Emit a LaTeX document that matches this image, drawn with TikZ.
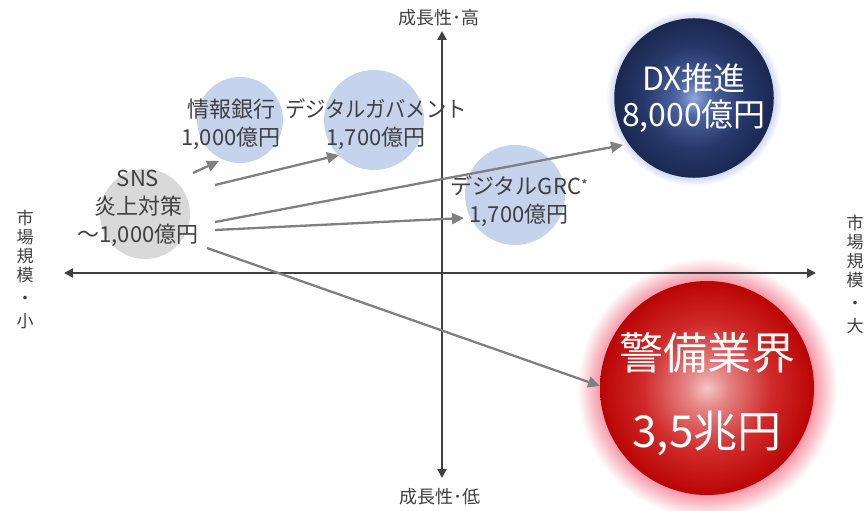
\documentclass[tikz,border=0pt]{standalone}
\usepackage{fontspec}
\setmainfont{Noto Sans CJK JP}
\usetikzlibrary{arrows.meta}
\definecolor{txt}{HTML}{404040}
\definecolor{axiscol}{HTML}{404040}
\definecolor{arrcol}{HTML}{808080}
\definecolor{bub}{HTML}{C5D3EC}
\definecolor{gry}{HTML}{D9D9D9}
\definecolor{redA}{HTML}{F4C6C6}
\definecolor{redB}{HTML}{E48484}
\definecolor{redC}{HTML}{D02A2A}
\definecolor{redD}{HTML}{BA0404}
\definecolor{glowR}{HTML}{F58A9C}
\definecolor{glowR2}{HTML}{FAC4CE}
\definecolor{bluA}{HTML}{8EA8DC}
\definecolor{bluB}{HTML}{4A629E}
\definecolor{bluC}{HTML}{26386A}
\definecolor{bluD}{HTML}{1A2850}
\definecolor{glowB}{HTML}{9FB1DC}
\definecolor{glowB2}{HTML}{CDD7EE}
\pgfdeclareradialshading{redball}{\pgfpoint{0bp}{0bp}}{color(0bp)=(redA); color(5bp)=(redB); color(15bp)=(redC); color(25bp)=(redD); color(50bp)=(redD)}
\pgfdeclareradialshading{redglow}{\pgfpoint{0bp}{0bp}}{color(0bp)=(glowR); color(20bp)=(glowR); color(22.5bp)=(glowR2); color(25bp)=(white); color(50bp)=(white)}
\pgfdeclareradialshading{blueball}{\pgfpoint{0bp}{0bp}}{color(0bp)=(bluA); color(6bp)=(bluB); color(16bp)=(bluC); color(25bp)=(bluD); color(50bp)=(bluD)}
\pgfdeclareradialshading{blueglow}{\pgfpoint{0bp}{0bp}}{color(0bp)=(glowB); color(20bp)=(glowB); color(22.5bp)=(glowB2); color(25bp)=(white); color(50bp)=(white)}
\tikzset{
  lbl/.style={text=txt, align=center, font=\fontsize{22}{28}\selectfont, inner sep=0pt},
  axlbl/.style={text=txt, align=center, font=\fontsize{17}{19}\selectfont, inner sep=0pt},
  bubble/.style={circle, fill=bub, inner sep=0pt, draw=none},
  axisline/.style={draw=axiscol, line width=2pt, {Triangle[length=9pt,width=9pt]}-{Triangle[length=9pt,width=9pt]}},
  conn/.style={draw=arrcol, line width=2.3pt, -{Triangle[length=12pt,width=11pt]}},
}
\begin{document}
\begin{tikzpicture}[x=1pt,y=-1pt]
\useasboundingbox (0,0) rectangle (867,511);
\fill[white] (0,0) rectangle (867,511);
% bubbles
\node[bubble, minimum size=86pt] (ginko) at (240,120) {};
\node[bubble, minimum size=100pt] (gov) at (374,120) {};
\node[bubble, minimum size=100pt] (grc) at (515,195) {};
\node[circle, fill=gry, inner sep=0pt, minimum size=90pt] (sns) at (145,214) {};
% glows and spheres
\node[circle, shading=blueglow, inner sep=0pt, minimum size=176pt] (dxglow) at (694,98) {};
\node[circle, shading=blueball, inner sep=0pt, minimum size=146pt, text=white, align=center, font=\fontsize{32}{40}\selectfont] (dx) at (694,98) {DX推進\\[-4pt]8,000億円};
\node[circle, shading=redglow, inner sep=0pt, minimum size=260pt] (redglow) at (707,388) {};
\node[circle, shading=redball, inner sep=0pt, minimum size=214pt] (kei) at (707,388) {};
\node[text=white, align=center, font=\fontsize{44}{78}\selectfont, inner sep=0pt] (keit) at (707,394) {警備業界\\3,5兆円};
% axes
\coordinate (xl) at (64,273);
\coordinate (xr) at (816,273);
\coordinate (yt) at (442,31);
\coordinate (yb) at (442,478);
\draw[axisline] (xl) -- (xr);
\draw[axisline] (yb) -- (yt);
% axis labels
\node[text=txt, font=\fontsize{18}{20}\selectfont, inner sep=0pt] (top) at (439,18) {成長性･高};
\node[text=txt, font=\fontsize{18}{20}\selectfont, inner sep=0pt] (bot) at (440,497) {成長性･低};
\node[axlbl] (lft) at (25,270) {市\\場\\規\\模\\[4pt]・\\[4pt]小};
\node[axlbl] (rgt) at (855,274) {市\\場\\規\\模\\[4pt]・\\[4pt]大};
% texts
\node[lbl] (ginkot) at (231,124) {情報銀行\\1,000億円};
\node[lbl] (govt) at (376,124) {\scalebox{0.92}[1]{デジタルガバメント}\\1,700億円};
\node[lbl] (grct) at (519,201) {デジタルGRC\raisebox{4pt}{\fontsize{14}{14}\selectfont *}\\1,700億円};
\node[lbl] (snst) at (138,208) {SNS\\炎上対策\\～1,000億円};
% connectors
\coordinate (s1) at (193,173); \coordinate (e1) at (219,161);
\coordinate (s2) at (215,185); \coordinate (e2) at (339,155);
\coordinate (s3) at (215,222); \coordinate (e3) at (623,145);
\coordinate (s4) at (215,230); \coordinate (e4) at (464,218);
\coordinate (s5) at (207,248); \coordinate (e5) at (600,386);
\draw[conn] (s1) -- (e1);
\draw[conn] (s2) -- (e2);
\draw[conn] (s3) -- (e3);
\draw[conn] (s4) -- (e4);
\draw[conn] (s5) -- (e5);
\end{tikzpicture}
\end{document}
